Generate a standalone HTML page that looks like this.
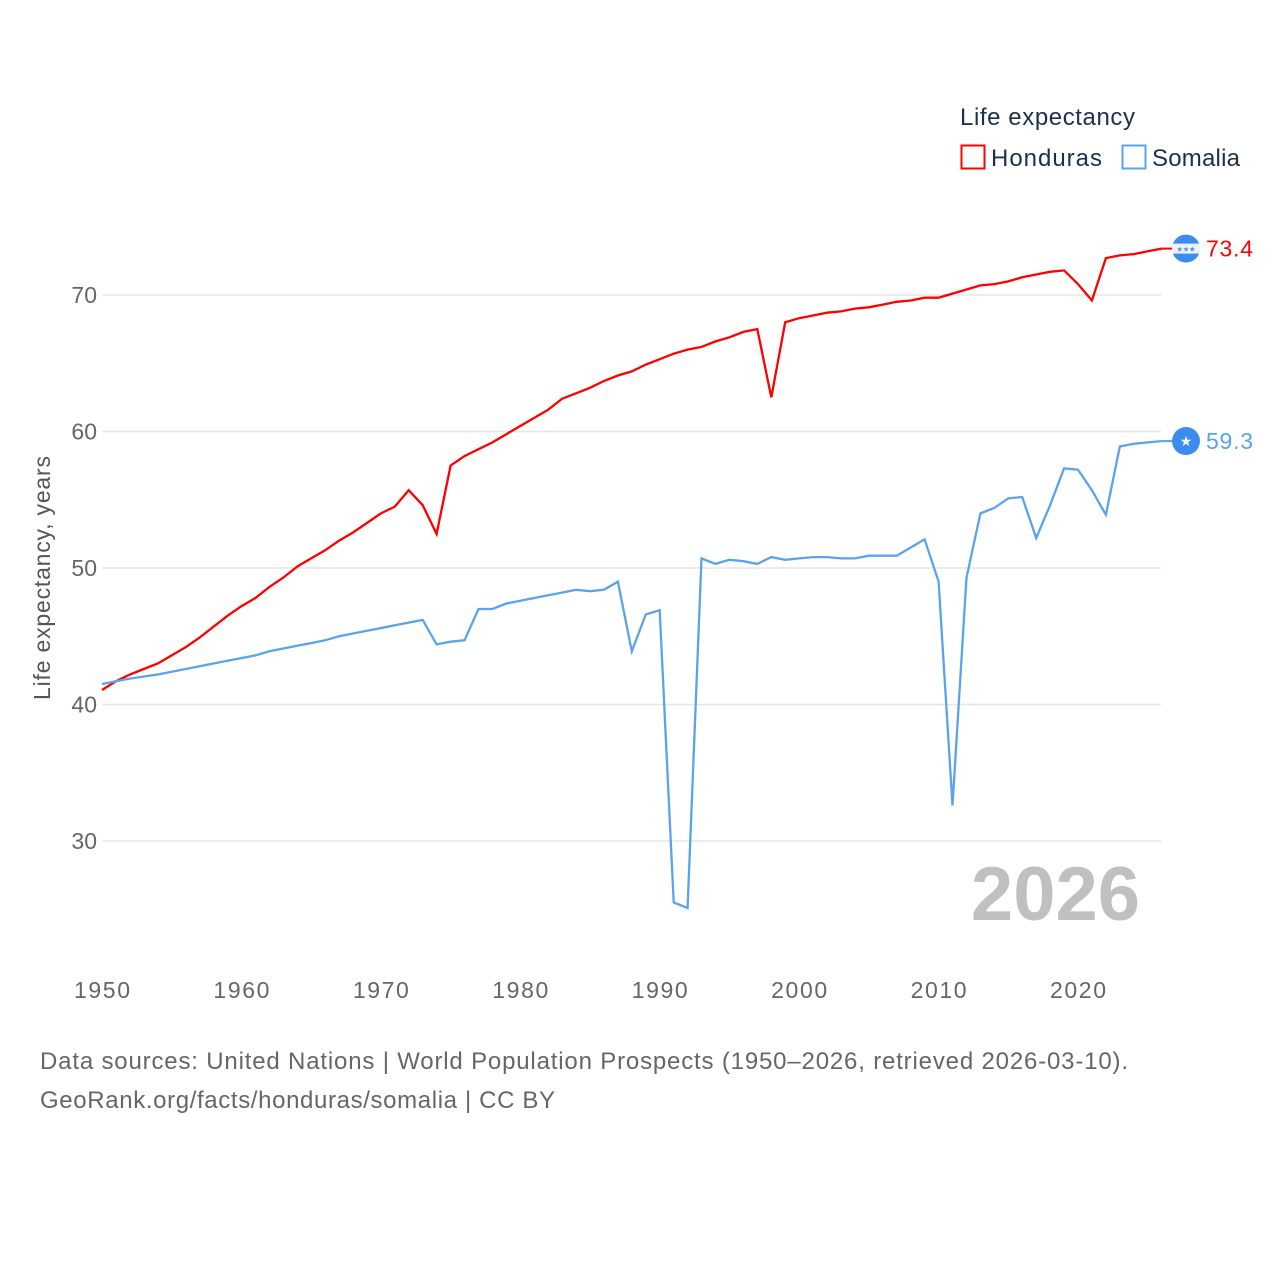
<!DOCTYPE html>
<html><head><meta charset="utf-8"><style>
body{margin:0;background:#fff;font-family:"Liberation Sans",sans-serif}
svg{display:block}
</style></head><body>
<svg id="chart" width="1280" height="1280" viewBox="0 0 1280 1280">
<g id="grid"></g>
<g id="yticks"></g>
<g id="xticks"></g>
<text transform="translate(50,578) rotate(-90)" text-anchor="middle" font-size="23" fill="#555" textLength="244">Life expectancy, years</text>
<text x="1140" y="920" text-anchor="end" font-size="76" font-weight="bold" fill="#c0c0c0">2026</text>
<g id="lines"></g>
<g>
<text x="960" y="125" font-size="24" fill="#1c2f4d" textLength="175">Life expectancy</text>
<g>
<rect x="961.5" y="145.5" width="23" height="23" fill="none" stroke="#ff0000" stroke-width="2"/>
<text x="991" y="166" font-size="24" fill="#1c2f4d" textLength="111">Honduras</text></g>
<g>
<rect x="1122.5" y="145.5" width="23" height="23" fill="none" stroke="#5ba3ea" stroke-width="2"/>
<text x="1152" y="166" font-size="24" fill="#1c2f4d" textLength="88">Somalia</text></g>
</g>
<g id="ends"></g>
<text x="40" y="1069" font-size="24" fill="#666" textLength="1088">Data sources: United Nations | World Population Prospects (1950–2026, retrieved 2026-03-10).</text>
<text x="40" y="1108" font-size="24" fill="#666" textLength="515">GeoRank.org/facts/honduras/somalia | CC BY</text>
</svg>
<script>
const years = [];
for (let y = 1950; y <= 2026; y++) years.push(y);
const honduras = [41.06,41.7,42.2,42.6,43.0,43.6,44.2,44.9,45.7,46.5,47.2,47.8,48.6,49.3,50.1,50.7,51.3,52.0,52.6,53.3,54.0,54.5,55.7,54.6,52.5,57.5,58.2,58.7,59.2,59.8,60.4,61.0,61.6,62.4,62.8,63.2,63.7,64.1,64.4,64.9,65.3,65.7,66.0,66.2,66.6,66.9,67.3,67.5,62.5,68.0,68.3,68.5,68.7,68.8,69.0,69.1,69.3,69.5,69.6,69.8,69.8,70.1,70.4,70.7,70.8,71.0,71.3,71.5,71.7,71.8,70.8,69.6,72.7,72.9,73.0,73.2,73.4];
const somalia = [41.5,41.7,41.9,42.05,42.2,42.4,42.6,42.8,43.0,43.2,43.4,43.6,43.9,44.1,44.3,44.5,44.7,45.0,45.2,45.4,45.6,45.8,46.0,46.2,44.4,44.6,44.7,47.0,47.0,47.4,47.6,47.8,48.0,48.2,48.4,48.3,48.4,49.0,43.9,46.6,46.9,25.5,25.1,50.7,50.3,50.6,50.5,50.3,50.8,50.6,50.7,50.8,50.8,50.7,50.7,50.9,50.9,50.9,51.5,52.1,49.0,32.6,49.3,54.0,54.4,55.1,55.2,52.2,54.6,57.3,57.2,55.7,53.9,58.9,59.1,59.2,59.3];
const yTicks = [30,40,50,60,70];
const xTicks = [1950,1960,1970,1980,1990,2000,2010,2020];
const endLabels = ["73.4","59.3"];

const NS = "http://www.w3.org/2000/svg";
const xs = y => 102 + (y - 1950) * (976 / 70);
const ys = v => 295 + (70 - v) * (546 / 40);
function mk(tag, attrs, parent) {
  const e = document.createElementNS(NS, tag);
  for (const k in attrs) e.setAttribute(k, attrs[k]);
  parent.appendChild(e);
  return e;
}
const grid = document.getElementById('grid'), yt = document.getElementById('yticks'), xt = document.getElementById('xticks');
yTicks.forEach(v => {
  const l = mk('line', {x1: 102, x2: 1161, y1: ys(v), y2: ys(v), stroke: '#e6e6e6', 'stroke-width': 1.5}, grid);
  
  
  const t = mk('text', {x: 97, y: ys(v) + 8, 'text-anchor': 'end', 'font-size': 23, fill: '#666'}, yt);
  t.textContent = v;
  
  
});
xTicks.forEach(v => {
  const t = mk('text', {x: xs(v), y: 998, 'text-anchor': 'middle', 'font-size': 23, fill: '#666', textLength: 56}, xt);
  t.textContent = v;
  
  
});
const lines = document.getElementById('lines');
[[honduras, '#ff0000', 'honduras'], [somalia, '#5ba3ea', 'somalia']].forEach(([d, c, n]) => {
  const pts = d.map((v, i) => xs(years[i]).toFixed(1) + ',' + ys(v).toFixed(1)).join(' ');
  const p = mk('polyline', {points: pts, fill: 'none', stroke: c, 'stroke-width': 2.3, 'stroke-linejoin': 'miter'}, lines);
  
  
});
const ends = document.getElementById('ends');
const lastX = xs(years[years.length - 1]);
let vh = honduras[honduras.length - 1], cy = ys(vh);
mk('line', {x1: lastX, x2: 1172, y1: cy, y2: cy, stroke: '#ff0000', 'stroke-width': 2}, ends);
const gH = mk('g', {}, ends);


mk('circle', {cx: 1186, cy: cy, r: 14, fill: '#3a8dee'}, gH);
mk('rect', {x: 1172, y: cy - 5, width: 28, height: 10, fill: '#eef2f8'}, gH);
const th = mk('text', {x: 1186, y: cy + 3, 'text-anchor': 'middle', 'font-size': 7, fill: '#3a8dee'}, gH);
th.textContent = '★★★';
const lh = mk('text', {x: 1206, y: cy + 8, 'font-size': 23, fill: '#ff0000', textLength: 47}, ends);
lh.textContent = endLabels[0];


let vs = somalia[somalia.length - 1]; cy = ys(vs);
mk('line', {x1: lastX, x2: 1172, y1: cy, y2: cy, stroke: '#5ba3ea', 'stroke-width': 2}, ends);
const gS = mk('g', {}, ends);


mk('circle', {cx: 1186, cy: cy, r: 14, fill: '#3a8dee'}, gS);
const ts = mk('text', {x: 1186, y: cy + 5, 'text-anchor': 'middle', 'font-size': 14, fill: '#fff'}, gS);
ts.textContent = '★';
const ls = mk('text', {x: 1206, y: cy + 8, 'font-size': 23, fill: '#5ba3ea', textLength: 47}, ends);
ls.textContent = endLabels[1];


</script>
</body></html>
